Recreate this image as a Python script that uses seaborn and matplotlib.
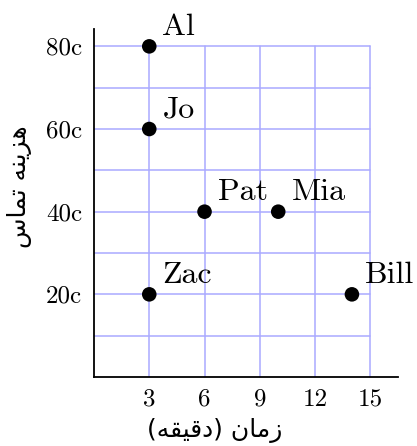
import matplotlib
matplotlib.use("Agg")
import matplotlib.pyplot as plt
import seaborn as sns
import pandas as pd

# data
names = ["Al", "Jo", "Pat", "Mia", "Zac", "Bill"]
minutes = [3, 3, 6, 10, 3, 14]
cost = [80, 60, 40, 40, 20, 20]
x_ticks = [3, 6, 9, 12, 15]
y_ticks = [20, 40, 60, 80]
y_tick_labels = ["20c", "40c", "60c", "80c"]
x_grid = [3, 6, 9, 12, 15]
y_grid = [10, 20, 30, 40, 50, 60, 70, 80]
# Persian labels in visual (presentation-form) order
xlabel = "(\uFEEA\uFED8\uFEF4\uFED7\uFEA9) \uFEE5\uFE8E\uFEE3\uFEAF"
ylabel = "\uFEB1\uFE8E\uFEE4\uFE97 \uFEEA\uFEE8\uFEF3\uFEB0\uFEEB"

sns.set_theme(style="white")
plt.rcParams["font.family"] = ["cmr10", "DejaVu Sans"]
plt.rcParams["axes.formatter.use_mathtext"] = True

df = pd.DataFrame({"name": names, "minutes": minutes, "cost": cost})

fig = plt.figure(figsize=(4.17, 4.46), dpi=100)
ax = fig.add_axes([0.2254, 0.1547, 0.9544 - 0.2254, 0.935 - 0.1547])

grid_color = "#aaaaff"
xmax_grid = max(x_grid)
ymax_grid = max(y_grid)
for gx in x_grid:
    ax.plot([gx, gx], [0, ymax_grid], color=grid_color, lw=1.1, zorder=1)
for gy in y_grid:
    ax.plot([0, xmax_grid], [gy, gy], color=grid_color, lw=1.1, zorder=1)

sns.scatterplot(data=df, x="minutes", y="cost", ax=ax, color="black",
                s=110, edgecolor="none", zorder=3, legend=False)

for n, xv, yv in zip(names, minutes, cost):
    ax.annotate(n, (xv, yv), xytext=(9.5, 8.5), textcoords="offset points",
                ha="left", va="baseline", fontsize=23, family="cmr10",
                color="black")

ax.set_xlim(0, 16.5)
ax.set_ylim(0, 84.2)
ax.set_xticks(x_ticks)
ax.set_xticklabels([str(v) for v in x_ticks], family="cmr10", fontsize=18)
ax.set_yticks(y_ticks)
ax.set_yticklabels(y_tick_labels, family="cmr10", fontsize=18)
ax.tick_params(axis="both", length=0, pad=8.5, colors="black")

for s in ["top", "right"]:
    ax.spines[s].set_visible(False)
for s in ["left", "bottom"]:
    ax.spines[s].set_color("black")
    ax.spines[s].set_linewidth(1.3)

ax.set_xlabel(xlabel, family="DejaVu Sans", fontsize=18, color="black")
ax.set_ylabel(ylabel, family="DejaVu Sans", fontsize=18, color="black")
ax.xaxis.set_label_coords((215 - 94) / (398 - 94), -(430 - 377) / (377 - 29), transform=ax.transAxes)
ax.xaxis.label.set_va("center")
ax.yaxis.set_label_coords(-(94 - 20) / (398 - 94), (377 - 187) / (377 - 29))
ax.yaxis.label.set_va("center")

fig.savefig("out.png", dpi=100)
